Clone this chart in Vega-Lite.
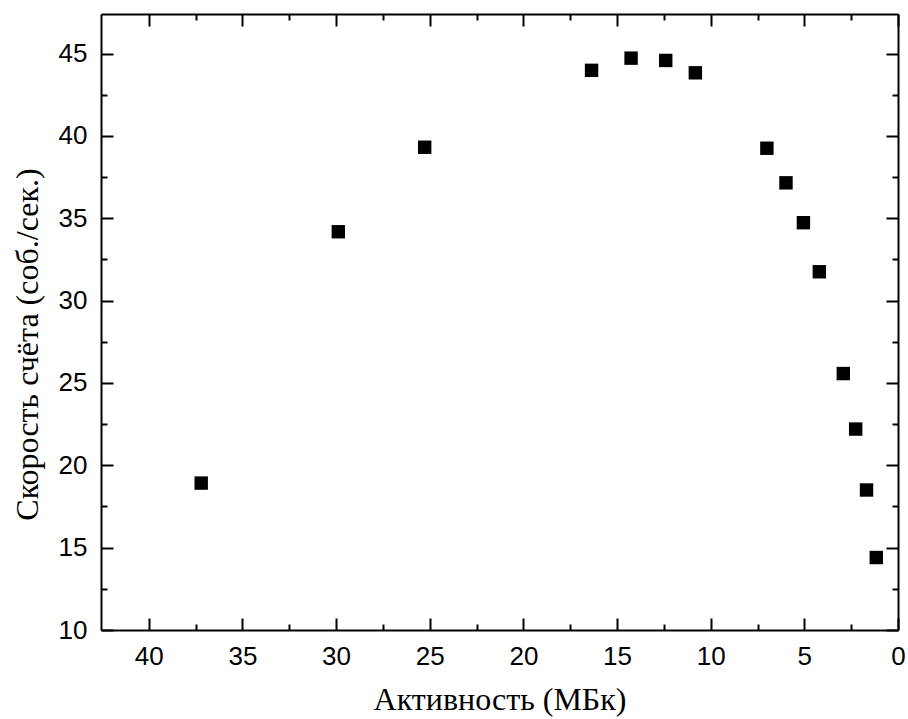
{
  "$schema": "https://vega.github.io/schema/vega-lite/v6.json",
  "autosize": {"type": "none"},
  "padding": {"left": 101, "top": 14, "right": 10, "bottom": 89},
  "width": 797,
  "height": 616,
  "background": "white",
  "config": {
    "view": {"stroke": null},
    "axis": {
      "grid": false,
      "domainColor": "black",
      "domainWidth": 2,
      "tickColor": "black",
      "tickWidth": 2,
      "labelColor": "black",
      "titleColor": "black",
      "labelFont": "Liberation Sans",
      "labelFontSize": 26,
      "titleFont": "Liberation Serif",
      "titleFontSize": 32,
      "titleFontWeight": "normal"
    }
  },
  "data": {"values": [
    {"a": 37.2, "r": 18.92},
    {"a": 29.88, "r": 34.18},
    {"a": 25.27, "r": 39.31},
    {"a": 16.36, "r": 43.98},
    {"a": 14.25, "r": 44.72},
    {"a": 12.4, "r": 44.58},
    {"a": 10.82, "r": 43.83},
    {"a": 7.0, "r": 39.25},
    {"a": 5.98, "r": 37.15},
    {"a": 5.05, "r": 34.73},
    {"a": 4.2, "r": 31.75},
    {"a": 2.92, "r": 25.57},
    {"a": 2.26, "r": 22.2},
    {"a": 1.68, "r": 18.5},
    {"a": 1.16, "r": 14.4}
  ]},
  "resolve": {"axis": {"x": "independent", "y": "independent"}},
  "layer": [
    {
      "mark": {"type": "square", "size": 180, "color": "black", "opacity": 1, "filled": true},
      "encoding": {
        "x": {"field": "a", "type": "quantitative",
          "scale": {"domain": [0, 42.55], "reverse": true, "nice": false, "zero": false},
          "axis": {"orient": "bottom", "title": "Активность (МБк)",
            "values": [0, 5, 10, 15, 20, 25, 30, 35, 40],
            "ticks": false, "labelPadding": 13, "titlePadding": 15, "labelFlush": false, "labelOverlap": false}},
        "y": {"field": "r", "type": "quantitative",
          "scale": {"domain": [10, 47.4], "nice": false, "zero": false},
          "axis": {"orient": "left", "title": "Скорость счёта (соб./сек.)", "titleY": 330,
            "values": [10, 15, 20, 25, 30, 35, 40, 45],
            "ticks": false, "labelPadding": 14, "titlePadding": 14, "labelFlush": false, "labelOverlap": false}}
      }
    },
    {
      "mark": {"type": "square", "size": 180, "opacity": 0},
      "encoding": {
        "x": {"field": "a", "type": "quantitative",
          "axis": {"orient": "bottom", "title": null, "labels": false, "domain": false,
            "values": [0, 5, 10, 15, 20, 25, 30, 35, 40], "tickSize": -12}},
        "y": {"field": "r", "type": "quantitative",
          "axis": {"orient": "left", "title": null, "labels": false, "domain": false,
            "values": [10, 15, 20, 25, 30, 35, 40, 45], "tickSize": -12}}
      }
    },
    {
      "mark": {"type": "square", "size": 180, "opacity": 0},
      "encoding": {
        "x": {"field": "a", "type": "quantitative",
          "axis": {"orient": "bottom", "title": null, "labels": false, "domain": false,
            "values": [2.5, 7.5, 12.5, 17.5, 22.5, 27.5, 32.5, 37.5], "tickSize": -6}},
        "y": {"field": "r", "type": "quantitative",
          "axis": {"orient": "left", "title": null, "labels": false, "domain": false,
            "values": [12.5, 17.5, 22.5, 27.5, 32.5, 37.5, 42.5], "tickSize": -6}}
      }
    },
    {
      "mark": {"type": "square", "size": 180, "opacity": 0},
      "encoding": {
        "x": {"field": "a", "type": "quantitative",
          "axis": {"orient": "top", "title": null, "labels": false,
            "values": [0, 5, 10, 15, 20, 25, 30, 35, 40], "tickSize": -12}},
        "y": {"field": "r", "type": "quantitative",
          "axis": {"orient": "right", "title": null, "labels": false,
            "values": [10, 15, 20, 25, 30, 35, 40, 45], "tickSize": -12}}
      }
    },
    {
      "mark": {"type": "square", "size": 180, "opacity": 0},
      "encoding": {
        "x": {"field": "a", "type": "quantitative",
          "axis": {"orient": "top", "title": null, "labels": false, "domain": false,
            "values": [2.5, 7.5, 12.5, 17.5, 22.5, 27.5, 32.5, 37.5], "tickSize": -6}},
        "y": {"field": "r", "type": "quantitative",
          "axis": {"orient": "right", "title": null, "labels": false, "domain": false,
            "values": [12.5, 17.5, 22.5, 27.5, 32.5, 37.5, 42.5], "tickSize": -6}}
      }
    }
  ]
}
